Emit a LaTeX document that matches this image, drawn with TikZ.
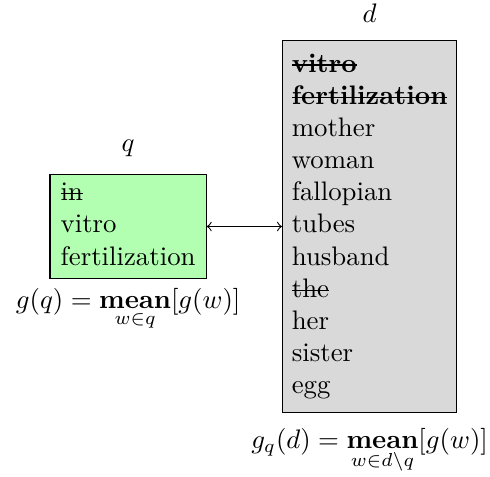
\documentclass[tikz,border=0pt]{standalone}
\usepackage{amsmath}
\usetikzlibrary{positioning}
\newsavebox\strkbox
\newcommand{\strk}[1]{\sbox\strkbox{#1}\rlap{\rule[0.55ex]{\wd\strkbox}{0.45pt}}\usebox\strkbox}
\begin{document}
\begin{tikzpicture}[x=1pt,y=1pt,wordbox/.style={draw,rectangle,inner sep=3.5pt}]
\useasboundingbox (0,0) rectangle (182.8,-177.6);
\node[wordbox,fill=green!30,inner xsep=4pt,inner ysep=1.4pt] (q) at (47.8,-84.5)
  {\begin{tabular}{@{}l@{}}\strk{in}\\vitro\\fertilization\end{tabular}};
\node[wordbox,fill=gray!30] (d) at (137.9,-84.5)
  {\begin{tabular}{@{}l@{}}\textbf{\strk{vitro}}\\\textbf{\strk{fertilization}}\\mother\\woman\\fallopian\\tubes\\husband\\\strk{the}\\her\\sister\\egg\end{tabular}};
\draw[<->] (q.east)--(d.west);
\node[above=3pt of q] (qname) {$q$};
\node[above=3pt of d] (dname) {$d$};
\node[below=0pt of q] (qmean) {$g(q) = \mathop{\mathbf{mean}}\limits_{w\in q}[g(w)]$};
\node[below=2pt of d] (dmean) {$g_q(d) = \mathop{\mathbf{mean}}\limits_{w\in d\setminus q}[g(w)]$};
\end{tikzpicture}
\end{document}
